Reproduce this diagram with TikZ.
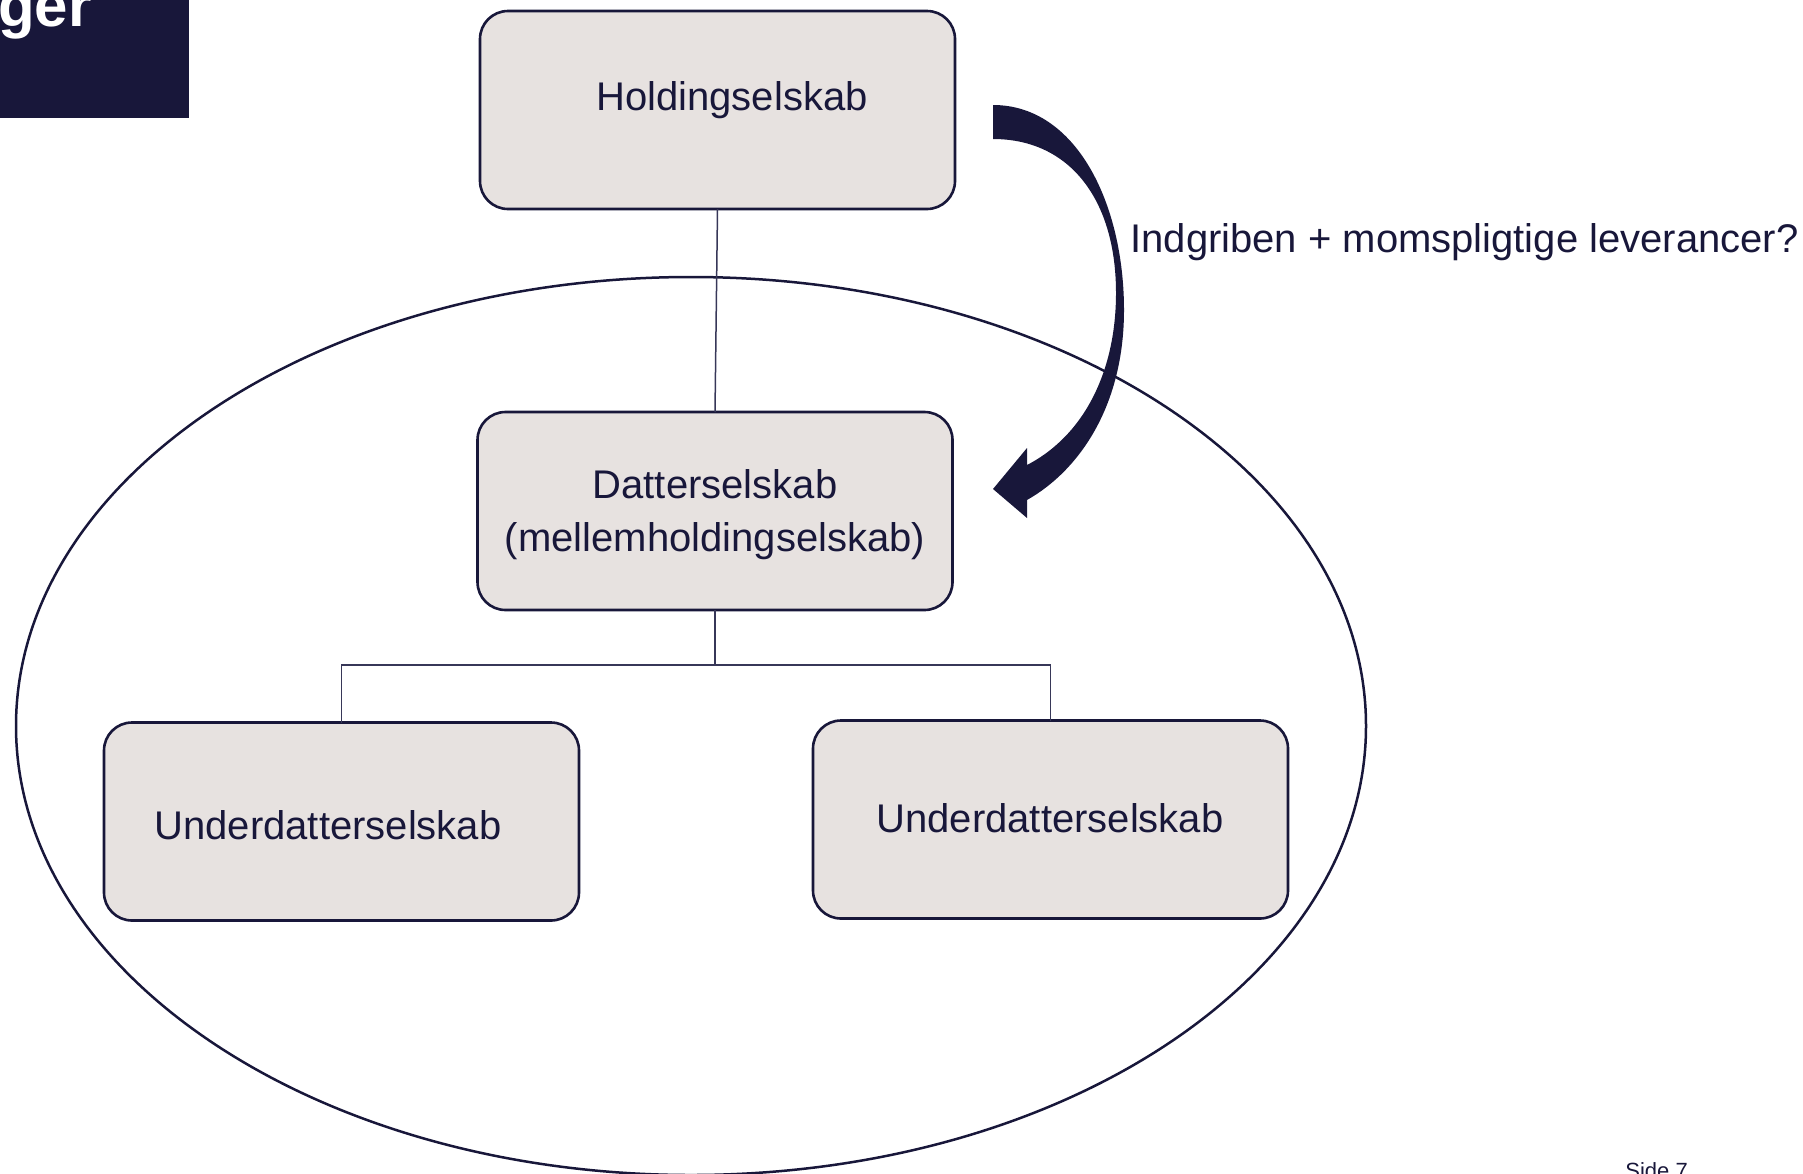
\documentclass[tikz,border=0pt]{standalone}
\usepackage{fontspec}
\setmainfont{Liberation Sans}
\definecolor{navy}{RGB}{24,23,58}
\definecolor{boxfill}{RGB}{231,226,224}
\definecolor{linec}{RGB}{55,55,88}
\begin{document}
\begin{tikzpicture}[x=0.5pt,y=-0.5pt,
  box/.style={draw=navy, line width=1.3pt, fill=boxfill, rounded corners=14pt,
              minimum width=237.5pt, minimum height=99pt, inner sep=0pt, outer sep=0pt},
  lbl/.style={text=navy, font=\fontsize{20}{27}\selectfont, inner sep=0pt, anchor=base},
  conn/.style={draw=linec, line width=0.75pt}]
\useasboundingbox (0,0) rectangle (1803,1173);
% title block
\fill[navy] (0,0) rectangle (189,118);
\node[anchor=base east, text=white, font=\bfseries\fontsize{30}{31}\selectfont, inner sep=0pt] (ger) at (92,26) {ger};
% ellipse
\draw[navy, line width=1.25pt] (691,726) ellipse [x radius=337.5pt, y radius=224.5pt];
% boxes
\node[box] (hold) at (717.5,110) {};
\node[box] (datt) at (715,511) {};
\node[box] (ul) at (341.5,821.5) {};
\node[box] (ur) at (1050.5,819.5) {};
% connectors
\draw[conn] (hold.south) -- (datt.north);
\draw[conn] (datt.south) -- ++(0,55) coordinate (jn) -| (ul.north);
\draw[conn] (jn) -| (ur.north);
% labels
\node[lbl] (holdT) at (732,110) {Holdingselskab};
\node[lbl] (dattT1) at (715,498) {Datterselskab};
\node[lbl] (dattT2) at (715,551) {(mellemholdingselskab)};
\node[lbl] (ulT) at (328,839) {Underdatterselskab};
\node[lbl] (urT) at (1050,832) {Underdatterselskab};
\node[lbl, anchor=base west] (q) at (1130,252) {Indgriben + momspligtige leverancer?};
% curved arrow
\fill[navy] (993,105) .. controls (1077,105) and (1124,205) .. (1124,310)
  .. controls (1124,405) and (1080,470) .. (1027,500)
  -- (1027,518) -- (993,489) -- (1027,448) -- (1027,465)
  .. controls (1085,435) and (1116,370) .. (1116,293)
  .. controls (1116,200) and (1070,139) .. (993,139) -- cycle;
% page number
\node[anchor=base west, inner sep=0pt, text=navy, font=\fontsize{11}{13}\selectfont] (side) at (1625,1178) {Side 7};
\end{tikzpicture}
\end{document}
